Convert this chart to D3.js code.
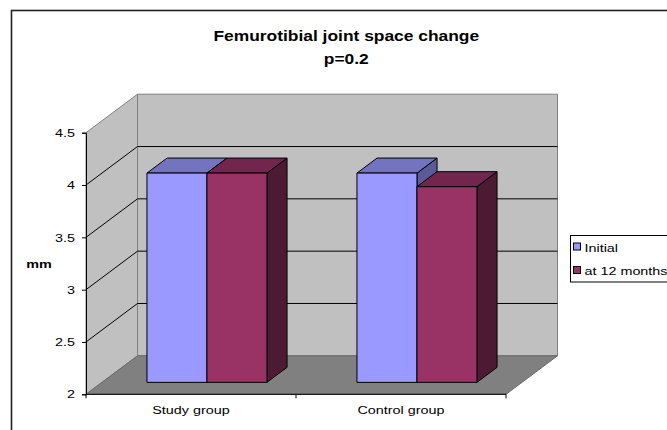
<!DOCTYPE html>
<html>
<head>
<meta charset="utf-8">
<script src="https://cdn.jsdelivr.net/npm/d3@7/dist/d3.min.js"></script>
<style>
  html, body { margin: 0; padding: 0; background: #fff; }
  svg { display: block; }
  text { font-family: "Liberation Sans", Arial, sans-serif; fill: #000; }
</style>
</head>
<body>
<svg id="chart" width="667" height="430"></svg>
<script>
// Chart data
const categories = ["Study group", "Control group"];
const seriesNames = ["Initial", "at 12 months"];
const initialValues = [4.0, 4.0];
const month12Values = [4.0, 3.87];
const yTicks = [2, 2.5, 3, 3.5, 4, 4.5];
const titleLines = ["Femurotibial joint space change", "p=0.2"];
const yAxisTitle = "mm";

// Face colours per series: front, top, side
const palette = {
  "Initial":      { front: "#9999ff", top: "#7373bf", side: "#5a5a99" },
  "at 12 months": { front: "#993366", top: "#73264d", side: "#4d1a33" }
};

const svg = d3.select("#chart");
const TX = 1.25; // horizontal text stretch

// Front plane scales
const y = d3.scaleLinear().domain([2, 4.5]).range([394.3, 132.7]);
const x0 = d3.scaleBand().domain(categories).range([86, 506])
  .paddingInner(0.4286).paddingOuter(0.2143);
const x1 = d3.scaleBand().domain(seriesNames).range([0, x0.bandwidth()]);

// Depth projection: 0 = front edge of floor, 1 = back wall
const depthX = d3.scaleLinear().domain([0, 1]).range([0, 51.5]);
const depthY = d3.scaleLinear().domain([0, 1]).range([0, -38.5]);
const barDepth = [0.31, 0.70];

const P = (px, v, d) => [px + depthX(d), y(v) + depthY(d)];
const poly = pts => pts.map(p => p.join(",")).join(" ");

const [xa, xb] = x0.range();
const [v0, v1] = y.domain();

// Outer chart border
svg.append("rect")
  .attr("x", 11.5).attr("y", 10.5).attr("width", 700).attr("height", 500)
  .attr("fill", "#fff").attr("stroke", "#222").attr("stroke-width", 1.6);

// Side wall
svg.append("polygon")
  .attr("points", poly([P(xa, v0, 0), P(xa, v1, 0), P(xa, v1, 1), P(xa, v0, 1)]))
  .attr("fill", "#c0c0c0").attr("stroke", "#808080");
// Back wall
svg.append("polygon")
  .attr("points", poly([P(xa, v0, 1), P(xa, v1, 1), P(xb, v1, 1), P(xb, v0, 1)]))
  .attr("fill", "#c0c0c0").attr("stroke", "#808080");
// Floor
svg.append("polygon")
  .attr("points", poly([P(xa, v0, 0), P(xa, v0, 1), P(xb, v0, 1), P(xb, v0, 0)]))
  .attr("fill", "#808080").attr("stroke", "#6a6a6a");

// Gridlines across the walls
const inner = yTicks.filter(t => t > v0 && t < v1);
const grid = svg.append("g").attr("stroke", "#000").attr("stroke-width", 1);
inner.forEach(t => {
  const a = P(xa, t, 0), b = P(xa, t, 1), c = P(xb, t, 1);
  grid.append("polyline").attr("fill", "none").attr("points", poly([a, b, c]));
});

// Bars
const bars = svg.append("g").attr("stroke", "#000").attr("stroke-width", 1)
  .attr("stroke-linejoin", "round");
categories.forEach((cat, i) => {
  const vals = { "Initial": initialValues[i], "at 12 months": month12Values[i] };
  seriesNames.forEach(s => {
    const v = vals[s];
    const l = x0(cat) + x1(s), r = l + x1.bandwidth();
    const [d0, d1] = barDepth;
    const col = palette[s];
    const g = bars.append("g");
    g.append("polygon").attr("fill", col.side)
      .attr("points", poly([P(r, v0, d0), P(r, v, d0), P(r, v, d1), P(r, v0, d1)]));
    g.append("polygon").attr("fill", col.top)
      .attr("points", poly([P(l, v, d0), P(l, v, d1), P(r, v, d1), P(r, v, d0)]));
    g.append("polygon").attr("fill", col.front)
      .attr("points", poly([P(l, v0, d0), P(l, v, d0), P(r, v, d0), P(r, v0, d0)]));
  });
});

// Y axis
const yAxis = svg.append("g").attr("transform", `translate(${xa},0)`)
  .call(d3.axisLeft(y).tickValues(yTicks).tickSizeOuter(0).tickSize(4).tickPadding(6)
    .tickFormat(d3.format("")));
yAxis.select(".domain").attr("stroke", "#000");
yAxis.selectAll(".tick line").attr("stroke", "#000");
yAxis.selectAll(".tick text")
  .attr("font-size", 11.5).attr("font-family", null)
  .attr("transform", function () {
    return `translate(-6,0) scale(${TX},1) translate(6,0)`;
  });

// X axis line with boundary ticks
const xLine = svg.append("g").attr("stroke", "#000");
xLine.append("line").attr("x1", xa).attr("x2", xb).attr("y1", y(v0)).attr("y2", y(v0));
d3.range(categories.length + 1).forEach(k => {
  const px = xa + k * x0.step();
  xLine.append("line").attr("x1", px).attr("x2", px)
    .attr("y1", y(v0)).attr("y2", y(v0) + 4);
});
svg.append("g").selectAll("text").data(categories).join("text")
  .attr("text-anchor", "middle").attr("font-size", 11.5)
  .attr("transform", d => `translate(${x0(d) + x0.bandwidth() / 2},414.3) scale(${TX},1)`)
  .text(d => d);

// Titles
svg.append("g").selectAll("text").data(titleLines).join("text")
  .attr("text-anchor", "middle").attr("font-size", 15).attr("font-weight", "bold")
  .attr("transform", (d, i) => `translate(346.3,${40.7 + i * 23.6}) scale(1.16,1)`)
  .text(d => d);

svg.append("text").attr("text-anchor", "middle").attr("font-size", 11.5)
  .attr("font-weight", "bold")
  .attr("transform", `translate(39,268) scale(${TX},1)`)
  .text(yAxisTitle);

// Legend
const legend = svg.append("g").attr("transform", "translate(570.5,235.5)");
legend.append("rect").attr("width", 120).attr("height", 46.5)
  .attr("fill", "#fff").attr("stroke", "#000");
seriesNames.forEach((s, i) => {
  const row = legend.append("g").attr("transform", `translate(3,${11.5 + i * 23.5})`);
  row.append("rect").attr("x", 0).attr("y", -4).attr("width", 7).attr("height", 7)
    .attr("fill", palette[s].front).attr("stroke", "#000");
  row.append("text").attr("font-size", 11.5)
    .attr("transform", `translate(11,4.5) scale(${TX},1)`).text(s);
});
</script>
</body>
</html>
